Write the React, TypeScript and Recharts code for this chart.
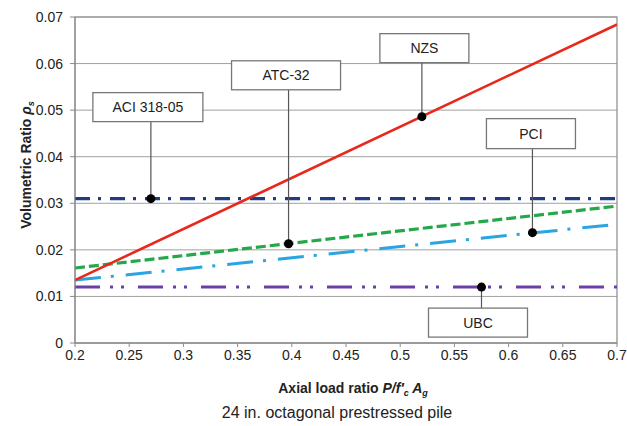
import React from 'react';
import {
  LineChart,
  Line,
  XAxis,
  YAxis,
  CartesianGrid,
  ReferenceArea,
  ReferenceDot,
} from 'recharts';

// ---- data ----
const xValues = [0.2, 0.7];
const nzsValues = [0.0135, 0.0684];
const aciValues = [0.031, 0.031];
const atcValues = [0.0161, 0.0294];
const pciValues = [0.0135, 0.0255];
const ubcValues = [0.012, 0.012];

const xTicks = [0.2, 0.25, 0.3, 0.35, 0.4, 0.45, 0.5, 0.55, 0.6, 0.65, 0.7];
const yTicks = [0, 0.01, 0.02, 0.03, 0.04, 0.05, 0.06, 0.07];

const calloutLabels = ['ACI 318-05', 'ATC-32', 'NZS', 'PCI', 'UBC'];
const calloutX = [0.27, 0.397, 0.52, 0.622, 0.575];
const calloutY = [0.031, 0.0213, 0.0486, 0.0237, 0.012];

// ---- layout / styles (pixel offsets of callout boxes relative to their point) ----
const calloutBoxes = [
  { dx: -58, dy: -106, w: 110, h: 29 },
  { dx: -57, dy: -183, w: 109, h: 29 },
  { dx: -42, dy: -83, w: 89, h: 29 },
  { dx: -46, dy: -114, w: 89, h: 30 },
  { dx: -53, dy: 21, w: 99, h: 29 },
];

const FONT = '"Liberation Sans", Arial, sans-serif';

const data = xValues.map((x, i) => ({
  x,
  nzs: nzsValues[i],
  aci: aciValues[i],
  atc: atcValues[i],
  pci: pciValues[i],
  ubc: ubcValues[i],
}));

const makeCallout = (idx: number) => (props: any) => {
  const { cx, cy } = props;
  const b = calloutBoxes[idx];
  const left = cx + b.dx;
  const top = cy + b.dy;
  const above = b.dy < 0;
  const lineEnd = above ? top + b.h : top;
  return (
    <g>
      <line x1={cx} y1={cy} x2={cx} y2={lineEnd} stroke="#555" strokeWidth={1.2} />
      <rect x={left} y={top} width={b.w} height={b.h} fill="#fff" stroke="#777" strokeWidth={1.3} />
      <text
        x={left + b.w / 2}
        y={top + b.h / 2 + 5}
        textAnchor="middle"
        fontFamily={FONT}
        fontSize={14}
        fill="#222"
      >
        {calloutLabels[idx]}
      </text>
      <circle cx={cx} cy={cy} r={4.5} fill="#000" />
    </g>
  );
};

const XTitle = (props: any) => {
  const vb = props.viewBox || { x: 75, y: 343, width: 542, height: 83 };
  const cx = vb.x + vb.width / 2;
  return (
    <g fontFamily={FONT} fill="#222">
      <text x={cx + 7} y={vb.y + 50} textAnchor="middle" fontSize={14} fontWeight="bold">
        <tspan>Axial load ratio </tspan>
        <tspan fontStyle="italic">P/f′</tspan>
        <tspan fontStyle="italic" fontSize={9} dy={3}>c</tspan>
        <tspan fontStyle="italic" dy={-3}> A</tspan>
        <tspan fontStyle="italic" fontSize={9} dy={3}>g</tspan>
      </text>
      <text x={cx - 9} y={vb.y + 75} textAnchor="middle" fontSize={16}>
        24 in. octagonal prestressed pile
      </text>
    </g>
  );
};

const YTitle = (props: any) => {
  const x = 31;
  const y = 165;
  return (
    <text
      x={x}
      y={y}
      transform={`rotate(-90 ${x} ${y})`}
      textAnchor="middle"
      fontFamily={FONT}
      fontSize={14}
      fontWeight="bold"
      fill="#222"
    >
      <tspan>Volumetric Ratio </tspan>
      <tspan fontStyle="italic">ρ</tspan>
      <tspan fontStyle="italic" fontSize={9} dy={3}>s</tspan>
    </text>
  );
};

export default function App() {
  return (
    <div style={{ position: 'absolute', left: 0, top: 0, width: 627, height: 426, background: '#fff' }}>
      <LineChart
        width={627}
        height={426}
        data={data}
        margin={{ top: 17, right: 10, bottom: 0, left: 0 }}
      >
        <CartesianGrid vertical={false} stroke="#a0a0a0" strokeWidth={1} />
        <ReferenceArea
          x1={0.2}
          x2={0.7}
          y1={0}
          y2={0.07}
          fill="none"
          stroke="#8a8a8a"
          strokeWidth={1.2}
          fillOpacity={0}
        />
        <XAxis
          dataKey="x"
          type="number"
          domain={[0.2, 0.7]}
          ticks={xTicks}
          tickFormatter={(v: number) => String(v)}
          height={83}
          tick={{ fontSize: 14, fill: '#222', fontFamily: FONT }}
          tickSize={4}
          tickMargin={3}
          stroke="#8a8a8a"
          allowDataOverflow
          label={<XTitle />}
        />
        <YAxis
          type="number"
          domain={[0, 0.07]}
          ticks={yTicks}
          tickFormatter={(v: number) => String(v)}
          width={75}
          tick={{ fontSize: 14, fill: '#222', fontFamily: FONT }}
          tickSize={5}
          tickMargin={7}
          stroke="#8a8a8a"
          allowDataOverflow
          label={<YTitle />}
        />
        <Line
          dataKey="ubc"
          stroke="#6a3fa8"
          strokeWidth={3}
          strokeDasharray="25 10 3 8 3 14"
          dot={false}
          isAnimationActive={false}
        />
        <Line
          dataKey="pci"
          stroke="#2aa5e2"
          strokeWidth={3}
          strokeDasharray="26 10 3 12"
          dot={false}
          isAnimationActive={false}
        />
        <Line
          dataKey="atc"
          stroke="#25a84a"
          strokeWidth={3.2}
          strokeDasharray="10 4"
          dot={false}
          isAnimationActive={false}
        />
        <Line
          dataKey="aci"
          stroke="#1f3d80"
          strokeWidth={3.2}
          strokeDasharray="15 8 3 9"
          dot={false}
          isAnimationActive={false}
        />
        <Line
          dataKey="nzs"
          stroke="#e8281c"
          strokeWidth={2.6}
          dot={false}
          isAnimationActive={false}
        />
        {calloutLabels.map((lab, i) => (
          <ReferenceDot
            key={lab}
            x={calloutX[i]}
            y={calloutY[i]}
            r={4.5}
            shape={makeCallout(i)}
          />
        ))}
      </LineChart>
    </div>
  );
}
